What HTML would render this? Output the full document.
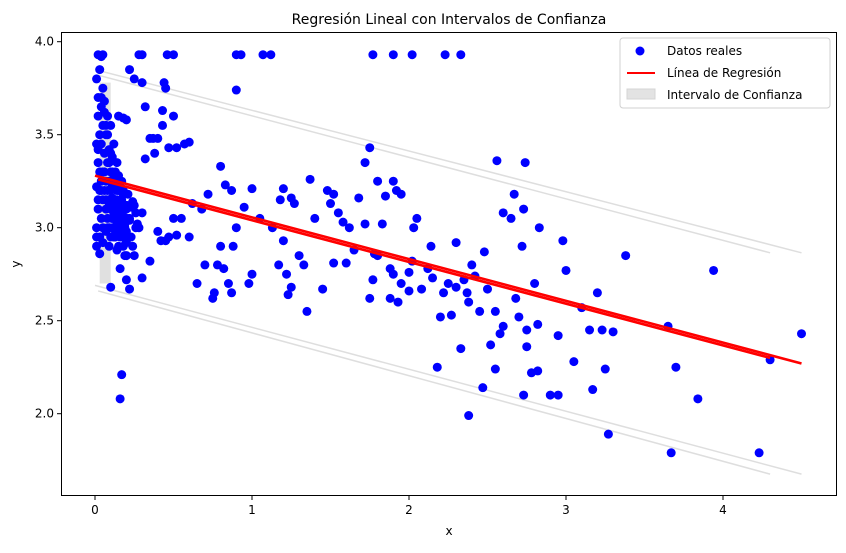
<!DOCTYPE html>
<html><head><meta charset="utf-8"><style>
body{margin:0;background:#fff;font-family:"Liberation Sans","DejaVu Sans",sans-serif;}
svg text{font-family:"DejaVu Sans","Liberation Sans",sans-serif;}
</style></head><body>
<svg id="chart" width="846" height="548" xmlns="http://www.w3.org/2000/svg">
<rect width="846" height="548" fill="#fff"/>
<text x="449" y="24" font-size="14" text-anchor="middle">Regresión Lineal con Intervalos de Confianza</text>
<g id="plot"></g>
<g id="axes"></g>
<text x="449" y="535" font-size="12" text-anchor="middle">x</text>
<text x="20" y="264" font-size="12" text-anchor="middle" transform="rotate(-90 20 264)">y</text>
<g>
<rect x="620" y="38" width="210" height="70" fill="#fff" stroke="#ccc" rx="3" opacity="0.9"/>
<circle cx="640" cy="51" r="4.5" fill="#0000ff"/>
<text x="667" y="55" font-size="12">Datos reales</text>
<line x1="627" y1="73" x2="655" y2="73" stroke="#ff0000" stroke-width="2"/>
<text x="667" y="77" font-size="12">Línea de Regresión</text>
<rect x="627" y="89" width="28" height="10" fill="#e3e3e3" stroke="#d5d5d5"/>
<text x="667" y="99" font-size="12">Intervalo de Confianza</text>
</g>
</svg>
<script>
const xTicks=[0,1,2,3,4];
const yTicks=[2.0,2.5,3.0,3.5,4.0];
const yTickLabels=["2.0","2.5","3.0","3.5","4.0"];
const ptsX=[0.02,0.05,0.04,0.28,0.3,0.46,0.5,0.9,0.93,1.07,1.12,1.77,1.9,2.02,2.23,2.33,
0.9,0.22,0.25,0.3,0.44,0.45,0.43,0.5,0.43,0.35,0.37,0.4,0.6,0.57,0.47,0.52,0.38,0.32,0.2,0.18,0.32,0.15,1.75,1.72,2.56,2.74,1.8,1.9,1.92,1.95,1.85,1.37,1.48,1.52,1.2,1.25,1.27,1.18,1.0,0.83,0.87,0.95,0.8,0.72,0.62,0.68,0.5,0.55,0.47,0.52,0.6,0.45,0.7,0.65,0.78,0.82,0.8,0.88,0.76,0.75,0.85,0.87,0.98,1.0,0.9,1.05,1.13,1.2,1.17,1.22,1.25,1.23,1.3,1.33,1.35,1.45,1.52,1.4,1.5,1.55,1.58,1.62,1.65,1.68,1.72,1.6,1.75,1.77,1.78,1.8,1.83,1.88,1.9,1.93,1.95,2.0,2.02,2.03,2.05,2.08,2.12,2.14,2.15,2.18,2.2,2.22,2.25,2.27,2.3,2.3,2.33,2.35,2.37,2.38,2.4,2.42,2.45,2.48,2.5,2.52,2.55,2.55,2.58,2.6,2.6,2.65,2.67,2.68,2.7,2.72,2.73,2.75,2.75,2.73,2.8,2.82,2.78,2.82,2.83,2.9,2.95,2.95,2.98,3.0,3.05,3.1,3.15,3.17,3.2,3.23,3.25,3.27,3.3,3.38,3.65,3.7,3.67,3.84,3.94,4.23,4.3,4.5,2.38,2.47,2.0,1.88,0.17,0.16,0.1,0.22,0.2,0.3,0.25,0.35,0.4,0.42,
0.01,0.02,0.03,0.04,0.05,0.06,0.07,0.08,0.09,0.1,0.11,0.12,0.13,0.14,0.15,0.16,0.17,0.18,0.19,0.2,
0.01,0.02,0.03,0.04,0.05,0.06,0.07,0.08,0.09,0.1,0.11,0.12,0.13,0.14,0.15,0.16,0.17,0.18,0.19,0.2,
0.01,0.02,0.03,0.04,0.05,0.06,0.07,0.08,0.09,0.1,0.11,0.12,0.13,0.14,0.15,0.16,0.17,0.18,0.19,0.2,
0.01,0.02,0.03,0.04,0.05,0.06,0.07,0.08,0.09,0.1,0.11,0.12,0.13,0.14,0.15,0.16,0.17,0.18,0.19,0.2,
0.01,0.02,0.03,0.04,0.05,0.06,0.07,0.08,0.09,0.1,0.11,0.12,0.13,0.14,0.15,0.16,0.17,0.18,0.19,0.2,
0.01,0.03,0.05,0.07,0.09,0.11,0.13,0.15,0.02,0.04,0.06,0.08,0.1,0.12,0.14,0.16,0.22,0.25,0.28,0.24,0.27,0.3,0.23,0.26,
0.12,0.14,0.16,0.18,0.2,0.22,0.24,0.26,0.13,0.15,0.17,0.19,0.21,0.23,0.11,0.09];
const ptsY=[3.93,3.93,3.92,3.93,3.93,3.93,3.93,3.93,3.93,3.93,3.93,3.93,3.93,3.93,3.93,3.93,
3.74,3.85,3.8,3.78,3.78,3.75,3.63,3.6,3.55,3.48,3.48,3.48,3.46,3.45,3.43,3.43,3.4,3.37,3.58,3.59,3.65,3.6,3.43,3.35,3.36,3.35,3.25,3.25,3.2,3.18,3.17,3.26,3.2,3.18,3.21,3.16,3.13,3.15,3.21,3.23,3.2,3.11,3.33,3.18,3.13,3.1,3.05,3.05,2.95,2.96,2.95,2.93,2.8,2.7,2.8,2.78,2.9,2.9,2.65,2.62,2.7,2.65,2.7,2.75,3.0,3.05,3.0,2.93,2.8,2.75,2.68,2.64,2.85,2.8,2.55,2.67,2.81,3.05,3.13,3.08,3.03,3.0,2.88,3.16,3.02,2.81,2.62,2.72,2.86,2.85,3.02,2.78,2.75,2.6,2.7,2.76,2.82,3.0,3.05,2.67,2.78,2.9,2.73,2.25,2.52,2.65,2.7,2.53,2.92,2.68,2.35,2.72,2.65,2.6,2.8,2.74,2.55,2.87,2.67,2.37,2.24,2.55,2.43,2.47,3.08,3.05,3.18,2.62,2.52,2.9,3.1,2.45,2.36,2.1,2.7,2.48,2.22,2.23,3.0,2.1,2.1,2.42,2.93,2.77,2.28,2.57,2.45,2.13,2.65,2.45,2.24,1.89,2.44,2.85,2.47,2.25,1.79,2.08,2.77,1.79,2.29,2.43,1.99,2.14,2.66,2.62,2.21,2.08,2.68,2.67,2.72,2.73,2.85,2.82,2.98,2.93,
3.45,3.6,3.3,3.7,3.55,3.4,3.25,3.5,3.35,3.2,3.3,3.15,3.25,3.1,3.2,3.05,3.15,3.0,3.1,3.05,
3.22,3.15,3.5,3.05,3.3,3.62,3.1,3.2,3.0,3.4,3.05,3.28,2.95,3.15,3.0,3.1,2.95,3.2,3.0,2.92,
3.0,3.35,3.2,3.45,3.15,3.3,3.55,3.05,3.25,3.1,3.0,2.95,3.05,3.2,2.9,3.0,3.08,2.9,3.02,2.98,
2.9,3.1,2.95,3.25,3.0,3.2,2.98,3.35,3.15,2.95,3.22,3.1,3.0,2.88,3.05,2.95,3.1,3.05,2.85,3.12,
3.8,3.7,3.85,3.65,3.75,3.68,3.5,3.6,3.42,3.55,3.38,3.45,3.3,3.35,3.28,3.22,3.25,3.18,2.98,2.85,
2.95,2.86,2.92,3.15,2.9,3.05,3.22,3.0,3.42,3.2,3.62,3.0,3.3,2.95,3.12,2.78,3.05,3.12,3.0,2.9,3.02,3.08,2.95,3.0,
3.08,3.02,3.12,3.06,3.1,3.04,3.14,3.08,2.97,2.99,3.03,2.96,3.18,3.11,3.16,3.13];
const regA=[0,3.28,4.5,2.27];
const regB=[0.02,3.26,4.3,2.3];
const bandsX=[[0,4.5],[0.02,4.3],[0,4.5],[0.02,4.3]];
const bandsY=[[3.85,2.865],[3.82,2.865],[2.69,1.675],[2.66,1.675]];
const X=v=>95+v*157, Y=v=>41.7+(4-v)*186;
const ns="http://www.w3.org/2000/svg";
const plot=document.getElementById('plot'), axes=document.getElementById('axes');
function mk(tag,attrs,parent){const e=document.createElementNS(ns,tag);for(const k in attrs)e.setAttribute(k,attrs[k]);parent.appendChild(e);return e;}
const shade=mk('rect',{x:X(0.03),y:Y(3.78),width:X(0.1)-X(0.03),height:Y(2.7)-Y(3.78),fill:'#e0e0e0'},plot);


bandsX.forEach((bx,i)=>{const l=mk('line',{x1:X(bx[0]),y1:Y(bandsY[i][0]),x2:X(bx[1]),y2:Y(bandsY[i][1]),stroke:'#dedede','stroke-width':1.5},plot);

});
ptsX.forEach((x,i)=>{const c=mk('circle',{cx:X(x),cy:Y(ptsY[i]),r:4.5,fill:'#0000ff'},plot);

});
[regA,regB].forEach(r=>{const l=mk('line',{x1:X(r[0]),y1:Y(r[1]),x2:X(r[2]),y2:Y(r[3]),stroke:'#ff0000','stroke-width':2.6},plot);

});
const frame=mk('rect',{x:61.5,y:32.5,width:775,height:463,fill:'none',stroke:'#000','stroke-width':1},axes);


xTicks.forEach(t=>{mk('line',{x1:X(t),y1:496,x2:X(t),y2:500,stroke:'#000'},axes);
const tx=mk('text',{x:X(t),y:514,'font-size':12,'text-anchor':'middle'},axes);tx.textContent=t;

});
yTicks.forEach((t,i)=>{mk('line',{x1:57,y1:Y(t),x2:61,y2:Y(t),stroke:'#000'},axes);
const tx=mk('text',{x:54,y:Y(t)+4,'font-size':12,'text-anchor':'end'},axes);tx.textContent=yTickLabels[i];

});
</script>
</body></html>
